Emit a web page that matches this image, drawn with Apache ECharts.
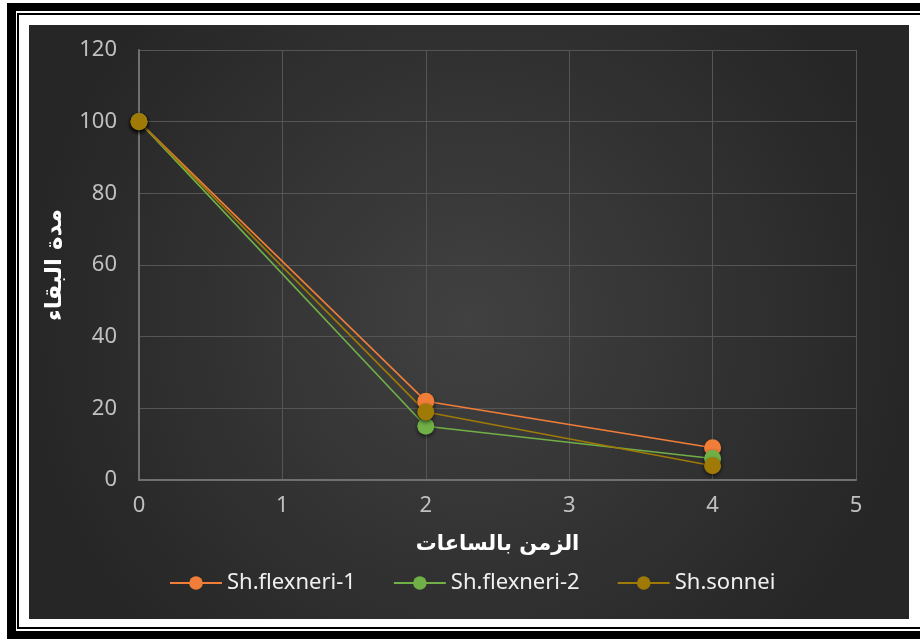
<!DOCTYPE html>
<html>
<head>
<meta charset="utf-8">
<script src="https://cdn.jsdelivr.net/npm/echarts@6/dist/echarts.min.js"></script>
<style>
html,body{margin:0;padding:0;background:#fff;}
#c{width:920px;height:639px;}
</style>
</head>
<body>
<div id="c"></div>
<script>
var hours = [0, 2, 4];
var flexneri1 = [100, 22, 9];
var flexneri2 = [100, 15, 6];
var sonnei = [100, 19, 4];
var seriesNames = ['Sh.flexneri-1', 'Sh.flexneri-2', 'Sh.sonnei'];
var seriesColors = ['#F07E38', '#71B046', '#A07A06'];
var xTitle = 'الزمن بالساعات';
var yTitle = 'مدة البقاء';

function pairs(vals){ return hours.map(function(h,i){ return [h, vals[i]]; }); }

var chart = echarts.init(document.getElementById('c'), null, {renderer:'canvas'});
var font = 'Noto Sans';
function mkSeries(name, vals, color){
  return {
    name: name, type: 'line', data: pairs(vals),
    symbol: 'circle', symbolSize: 17,
    lineStyle: {color: color, width: 1.6},
    itemStyle: {color: color, shadowBlur: 4, shadowOffsetY: 2, shadowColor: 'rgba(0,0,0,0.6)'},
    emphasis: {disabled: true}, animation: false
  };
}
chart.setOption({
  backgroundColor: '#ffffff',
  animation: false,
  graphic: [
    {type:'rect', z:-10, shape:{x:7,y:3,width:960,height:700}, style:{fill:'#000'}},
    {type:'rect', z:-10, shape:{x:16,y:11,width:960,height:620}, style:{fill:'#fff'}},
    {type:'rect', z:-10, shape:{x:17,y:13,width:960,height:616}, style:{fill:'#000'}},
    {type:'rect', z:-10, shape:{x:19,y:15,width:960,height:612}, style:{fill:'#fff'}},
    {type:'rect', z:-10, shape:{x:29,y:25,width:880,height:594}, style:{fill:{type:'radial', x:0.5, y:0.5, r:0.75, colorStops:[{offset:0,color:'#414141'},{offset:1,color:'#262626'}]}}}
  ],
  grid: {left:139, right:64, top:50, bottom:159, containLabel:false},
  legend: {
    data: seriesNames, left: 164, top: 567,
    itemWidth: 52, itemHeight: 17, itemGap: 37,
    textStyle: {color:'#f0f0f0', fontSize: 22, fontFamily: font}
  },
  xAxis: {
    type: 'value', min: 0, max: 5, interval: 1,
    name: xTitle, nameLocation: 'middle', nameGap: 54,
    nameTextStyle: {color:'#ffffff', fontSize: 21, fontWeight:'bold', fontFamily:'DejaVu Sans'},
    axisLine: {show:true, lineStyle:{color:'#707070', width:2}},
    axisTick: {show:false},
    axisLabel: {color:'#c0c0c0', fontSize:22, fontFamily: font, margin: 15},
    splitLine: {show:true, lineStyle:{color:'#555555', width:1}}
  },
  yAxis: {
    type: 'value', min: 0, max: 120, interval: 20,
    name: yTitle, nameLocation: 'middle', nameGap: 72, nameRotate: 90,
    nameTextStyle: {color:'#ffffff', fontSize: 23, fontWeight:'bold', fontFamily:'DejaVu Sans'},
    axisLine: {show:true, lineStyle:{color:'#707070', width:2}},
    axisTick: {show:false},
    axisLabel: {color:'#c0c0c0', fontSize:22, fontFamily: font, margin: 22},
    splitLine: {show:true, lineStyle:{color:'#555555', width:1}}
  },
  series: [
    mkSeries(seriesNames[0], flexneri1, seriesColors[0]),
    mkSeries(seriesNames[1], flexneri2, seriesColors[1]),
    mkSeries(seriesNames[2], sonnei, seriesColors[2])
  ]
});
</script>
</body>
</html>
